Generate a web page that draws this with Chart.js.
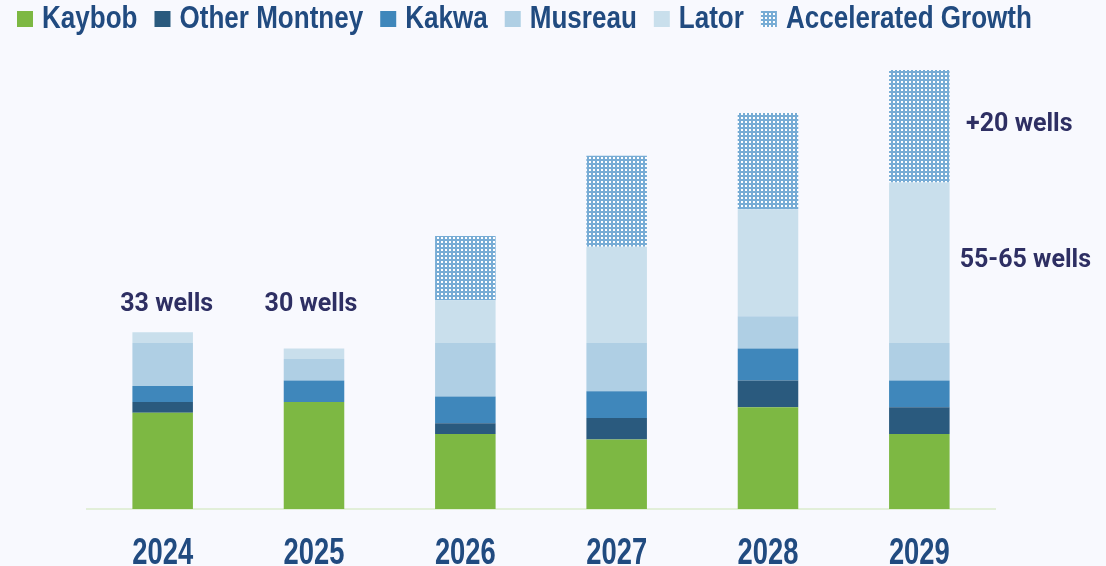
<!DOCTYPE html>
<html>
<head>
<meta charset="utf-8">
<script src="https://cdn.jsdelivr.net/npm/chart.js@4.4.1/dist/chart.umd.min.js"></script>
<style>
  html, body { margin: 0; padding: 0; background: #f8f9fe; }
  #wrap { width: 1106px; height: 566px; position: relative; }
</style>
</head>
<body>
<div id="wrap"><canvas id="wellsChart"></canvas></div>
<script>
// wells per year, by area
const years = ['2024', '2025', '2026', '2027', '2028', '2029'];
const kaybob = [18, 20, 14, 13, 19, 14];
const otherMontney = [2, 0, 2, 4, 5, 5];
const kakwa = [3, 4, 5, 5, 6, 5];
const musreau = [8, 4, 10, 9, 6, 7];
const lator = [2, 2, 8, 18, 20, 30];
const accelerated = [0, 0, 12, 17, 18, 21];

const topNotes = ['33 wells', '30 wells'];
const sideNotes = ['+20 wells', '55-65 wells'];

const navy = '#214b80';
// no narrow face installed, so bold sans is squeezed horizontally
const boldSans = "'Liberation Sans', Arial, sans-serif";

// dotted fill for accelerated growth
function makePattern() {
  const c = document.createElement('canvas');
  c.width = 4; c.height = 4;
  const g = c.getContext('2d');
  g.fillStyle = '#77acd5';
  g.fillRect(0, 0, 4, 4);
  g.fillStyle = '#ffffff';
  g.fillRect(1, 1, 2, 2);
  return g.createPattern(c, 'repeat');
}
const dots = makePattern();

function squeezedText(ctx, text, x, y, sx) {
  ctx.save();
  ctx.translate(x, y);
  ctx.scale(sx, 1);
  ctx.fillText(text, 0, 0);
  ctx.restore();
}

const bgPlugin = {
  id: 'bg',
  beforeDraw(chart) {
    const ctx = chart.ctx;
    ctx.save();
    ctx.fillStyle = '#f8f9fe';
    ctx.fillRect(0, 0, chart.width, chart.height);
    ctx.restore();
  }
};

// legend row + year labels in a condensed look
const textPlugin = {
  id: 'condensedText',
  afterDraw(chart) {
    const {ctx, scales: {x}, chartArea} = chart;
    ctx.save();
    ctx.fillStyle = navy;
    ctx.textBaseline = 'alphabetic';

    ctx.font = 'bold 31px ' + boldSans;
    ctx.textAlign = 'left';
    let lx = 17;
    chart.data.datasets.forEach((ds) => {
      ctx.fillStyle = ds.backgroundColor;
      ctx.fillRect(lx, 11, 16, 16);
      ctx.fillStyle = navy;
      squeezedText(ctx, ds.label, lx + 25, 28, 0.84);
      lx += 25 + ctx.measureText(ds.label).width * 0.84 + 17;
    });

    ctx.font = 'bold 36px ' + boldSans;
    ctx.textAlign = 'center';
    years.forEach((yr, i) => {
      squeezedText(ctx, yr, x.getPixelForValue(i), chartArea.bottom + 55, 0.76);
    });
    ctx.restore();
  }
};

const notesPlugin = {
  id: 'notes',
  afterDatasetsDraw(chart) {
    const {ctx, scales: {x, y}} = chart;
    ctx.save();
    ctx.fillStyle = '#2e2f63';
    ctx.font = "bold 25px Roboto, 'Liberation Sans', sans-serif";
    ctx.textAlign = 'center';
    ctx.textBaseline = 'middle';
    topNotes.forEach((t, i) => {
      ctx.fillText(t, x.getPixelForValue(i) + (i === 0 ? 4 : -3), y.getPixelForValue(38.2));
    });
    // side notes next to the last bar
    const last = years.length - 1;
    const base = kaybob[last] + otherMontney[last] + kakwa[last] + musreau[last];
    const sx = x.getPixelForValue(last) + 100;
    ctx.fillText(sideNotes[0], sx, y.getPixelForValue(base + lator[last] + accelerated[last] / 2 + 0.2));
    ctx.fillText(sideNotes[1], sx + 6, y.getPixelForValue(base + lator[last] / 2 + 0.4));
    ctx.restore();
  }
};

const myChartRef = document.getElementById('wellsChart').getContext('2d');

new Chart(myChartRef, {
  type: 'bar',
  data: {
    labels: years,
    datasets: [
      {label: 'Kaybob', data: kaybob, backgroundColor: '#7db843'},
      {label: 'Other Montney', data: otherMontney, backgroundColor: '#2a5a7e'},
      {label: 'Kakwa', data: kakwa, backgroundColor: '#3f87bb'},
      {label: 'Musreau', data: musreau, backgroundColor: '#afcfe4'},
      {label: 'Lator', data: lator, backgroundColor: '#c9dfec'},
      {label: 'Accelerated Growth', data: accelerated, backgroundColor: dots}
    ]
  },
  options: {
    responsive: true,
    maintainAspectRatio: false,
    animation: false,
    layout: {padding: {left: 87, right: 111, top: 54, bottom: 57}},
    datasets: {bar: {barPercentage: 0.4, categoryPercentage: 1.0, borderWidth: 0}},
    plugins: {
      legend: {display: false},
      tooltip: {enabled: false}
    },
    scales: {
      x: {
        stacked: true,
        grid: {display: false, drawTicks: false},
        border: {display: true, color: '#e2efd9', width: 2},
        ticks: {display: false}
      },
      y: {
        stacked: true,
        display: false,
        min: 0,
        max: 85
      }
    }
  },
  plugins: [bgPlugin, notesPlugin, textPlugin]
});
</script>
</body>
</html>
